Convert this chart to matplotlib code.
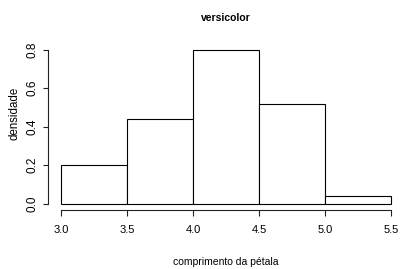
import matplotlib
matplotlib.use("Agg")
import matplotlib.pyplot as plt
import numpy as np

# Data
bin_edges = [3.0, 3.5, 4.0, 4.5, 5.0, 5.5]
densities = [0.20, 0.44, 0.80, 0.52, 0.04]
x_ticks = [3.0, 3.5, 4.0, 4.5, 5.0, 5.5]
x_ticklabels = ["3.0", "3.5", "4.0", "4.5", "5.0", "5.5"]
y_ticks = [0.0, 0.2, 0.4, 0.6, 0.8]
y_ticklabels = ["0.0", "0.2", "0.4", "0.6", "0.8"]
title = "versicolor"
xlabel = "comprimento da pétala"
ylabel = "densidade"

W, H = 401, 269
fig = plt.figure(figsize=(W / 100, H / 100), dpi=100)
FONT = ["Liberation Sans", "DejaVu Sans"]

left_px, right_px, top_px, bot_px = 48.1, 404.2, 43.5, 209.9
ax = fig.add_axes([left_px / W, (H - bot_px) / H,
                   (right_px - left_px) / W, (bot_px - top_px) / H])

edges = np.array(bin_edges)
ax.bar(edges[:-1], densities, width=np.diff(edges), align="edge",
       facecolor="white", edgecolor="black", linewidth=0.8)

ax.set_xlim(2.9, 5.6)
ax.set_ylim(-0.032, 0.832)
for s in ["top", "right"]:
    ax.spines[s].set_visible(False)
ax.spines["left"].set_bounds(0.0, 0.8)
ax.spines["bottom"].set_bounds(3.0, 5.5)
for s in ["left", "bottom"]:
    ax.spines[s].set_linewidth(0.8)
    ax.spines[s].set_color("#222222")

ax.set_xticks(x_ticks)
ax.set_xticklabels(x_ticklabels, fontfamily=FONT, fontsize=8)
ax.set_yticks(y_ticks)
ax.set_yticklabels(y_ticklabels, fontfamily=FONT, fontsize=8.5,
                   rotation=90, va="center")
ax.tick_params(axis="x", length=4.3, width=0.8, pad=6.8, color="#222222")
ax.tick_params(axis="y", length=3.9, width=0.8, pad=3, color="#222222")

fig.text(225.7 / W, (H - 21) / H, title, ha="center", va="baseline",
         fontweight="bold", fontfamily=FONT, fontsize=7.5)
fig.text(225.4 / W, (H - 264.7) / H, xlabel, ha="center", va="baseline",
         fontfamily=FONT, fontsize=7.5)
fig.text(20.4 / W, (H - 113) / H, ylabel, ha="right", va="center",
         rotation=90, fontfamily=FONT, fontsize=8.3)

fig.savefig("out.png", dpi=100)
